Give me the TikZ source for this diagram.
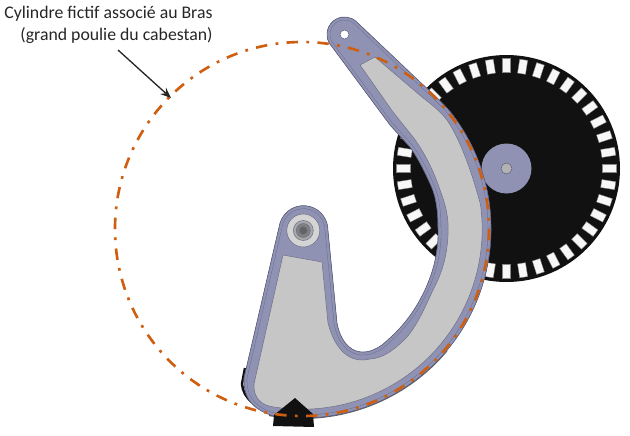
\documentclass[tikz,border=0pt]{standalone}
\usepackage{fontspec}
\setmainfont{Carlito}
\usetikzlibrary{arrows.meta}
\tikzset{
    > = {Stealth[length=6pt, width=4.8pt]},
    slot/.style = {fill = slotwhite, draw = slotedge, line width = 0.2pt},
    body/.style = {fill = armblue},
    rim/.style = {draw = rimdark, line width = 0.35pt},
    panel/.style = {fill = panelgrey, draw = panelline, line width = 0.3pt},
    washer/.style = {draw = panelline, line width = 0.3pt},
    cylinder/.style = {draw = cylorange, line width = 1.5pt,
        dash pattern = on 6.5pt off 4.8pt on 1.6pt off 4.7pt}
}
\definecolor{slotwhite}{HTML}{F7F7F7}
\definecolor{slotedge}{HTML}{888888}
\definecolor{armblue}{HTML}{8F92B3}
\definecolor{rimdark}{HTML}{5C5E7C}
\definecolor{panelgrey}{HTML}{C6C6C6}
\definecolor{panelline}{HTML}{6E7088}
\definecolor{cylorange}{HTML}{CF5F10}
\definecolor{diskblack}{HTML}{111111}
\newcommand\armoutline{
    ([shift={(head)}]151:17.5) arc[start angle=151, end angle=315, radius=17.5]
    -- (420,82) .. controls (431,92) and (442,102) .. ([shift={(pivot)}]-38:189)
    arc[start angle=-38, end angle=99, radius=189]
    .. controls (258,411) and (243,402) .. (244,378)
    -- (280,223)
    arc[start angle=197, end angle=360, radius=24.5]
    -- (337,323) .. controls (341,346) and (358,362) .. (382,345)
    .. controls (400,330) and (413,315) .. (425,290)
    .. controls (434,270) and (439,250) .. (438,227)
    .. controls (438,210) and (436,198) .. (432,188)
    .. controls (425,172) and (418,158) .. (410,147)
    -- (390,125) -- cycle
}
\begin{document}
\begin{tikzpicture}[x = 0.02cm, y = -0.02cm]
    \useasboundingbox (0,0) rectangle (630,436);

    \coordinate (hub) at (506.5,168.5);
    \coordinate (pivot) at (302,229);
    \coordinate (head) at (344.5,34.5);
    \coordinate (bolt) at (303.3,230.5);

    \fill[diskblack] (hub) circle[radius=113.5];
    \foreach \a in {0,9,...,351} {
        \path[slot, shift={(hub)}, rotate=\a] (96,-4) rectangle (110,4);
    }
    \fill[armblue] (hub) circle[radius=25];
    \draw[fill=panelgrey!90!black, draw=rimdark, line width=0.3pt] (hub) circle[radius=5.5];

    \draw[diskblack!70, line width=1.1pt] ([shift={(pivot)}]40:189) arc[start angle=40, end angle=100, radius=189];
    \draw[diskblack, line width=1.4pt] (245,368) -- (242,384) .. controls (243,398) and (256,408) .. (272,412);

    \path[body] \armoutline;
    \begin{scope}
        \clip \armoutline;
        \draw[rimdark!70!armblue, line width=3.6pt] \armoutline;
        \draw[armblue, line width=3.1pt] \armoutline;
    \end{scope}
    \draw[rim] \armoutline;

    \path[panel] (375,57) -- (360,65) -- (393,112) -- (413,137)
        .. controls (425,153) and (434,172) .. (440,190)
        .. controls (447,208) and (449,222) .. (448,235)
        .. controls (447,258) and (441,275) .. (433,290)
        .. controls (426,305) and (418,324) .. (407,337)
        .. controls (394,350) and (384,358) .. (370,359)
        .. controls (350,364) and (335,350) .. (328,323)
        -- (322,262) -- (283,255) -- (254,384)
        .. controls (253,398) and (262,406) .. (274,407)
        arc[start angle=99, end angle=-8, radius=180]
        .. controls (474,180) and (462,142) .. (447,120)
        .. controls (440,111) and (431,104) .. (422,97) -- cycle;

    \path[washer, fill=panelgrey!75!white] (bolt) circle[radius=16.5];
    \path[washer, fill=panelgrey!85!black] (bolt) circle[radius=10];
    \path[washer, fill=panelgrey!65!black] (bolt) circle[radius=7];
    \path[washer, fill=panelgrey!50!black] (bolt) circle[radius=4];
    \draw[fill=white, draw=rimdark, line width=0.3pt] (head) circle[radius=4.5];

    \fill[diskblack] (295,398) -- (313,414) -- (314,427) -- (273,426) -- (274,415) -- cycle;

    \path[cylinder] (pivot) circle[radius=187];

    \node[align=right, text=black!85, font=\fontsize{10.1pt}{12.4pt}\selectfont, inner sep=0pt, anchor=north west] (caption) at (4,6)
        {Cylindre fictif associé au Bras\\(grand poulie du cabestan)};
    \coordinate (tail) at (118,50);
    \coordinate (tip) at (171,98);
    \draw[->, black!85, line width=0.75pt] (tail) -- (tip);
\end{tikzpicture}
\end{document}
